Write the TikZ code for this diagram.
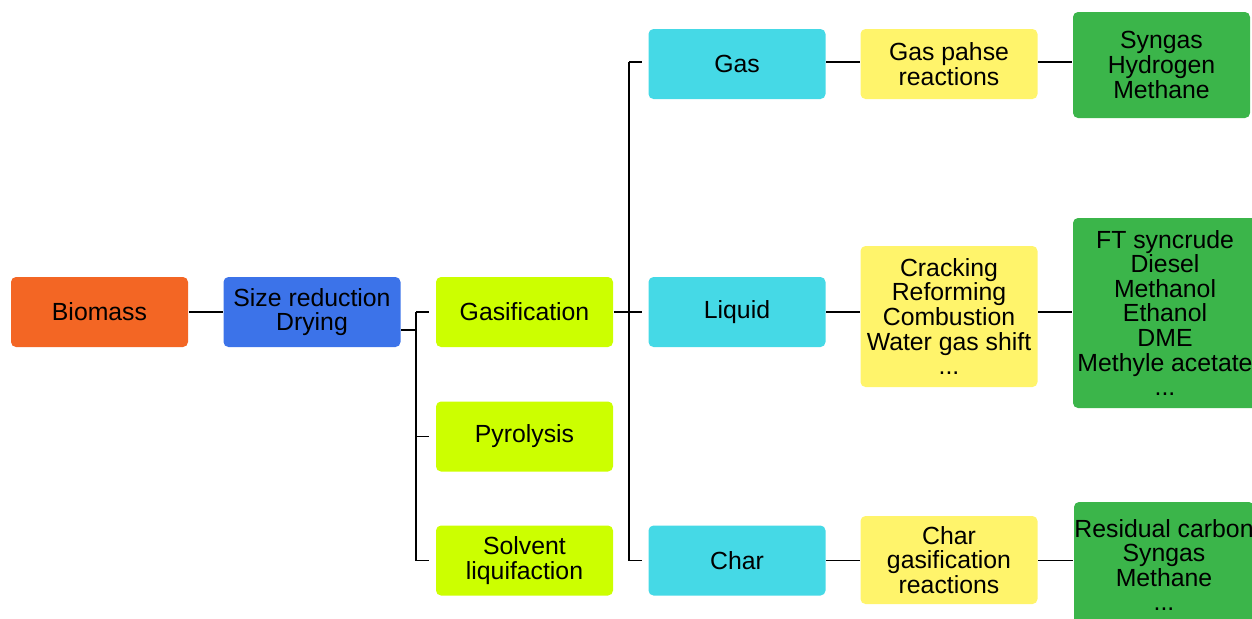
\documentclass[tikz,border=0pt]{standalone}
\usepackage{fontspec}
\setmainfont{Liberation Sans}
\usetikzlibrary{positioning}
\definecolor{cbio}{HTML}{F36624}
\definecolor{cprep}{HTML}{3C73E9}
\definecolor{cproc}{HTML}{CCFF00}
\definecolor{cphase}{HTML}{45D9E6}
\definecolor{creac}{HTML}{FFF46B}
\definecolor{cprod}{HTML}{3BB54A}

\begin{document}
\begin{tikzpicture}[
       x = 0.5pt, y = -0.5pt, line width=0.75pt,
 box/.style = {rounded corners=2.5pt, inner sep=0pt, align=center,
               minimum width=88.5pt, minimum height=35pt,
               font=\fontsize{12.4}{12.3}\selectfont},% all boxes
 bio/.style = {box, fill=cbio},
prep/.style = {box, fill=cprep},
proc/.style = {box, fill=cproc},
phas/.style = {box, fill=cphase},
reac/.style = {box, fill=creac},
prod/.style = {box, fill=cprod},
 gap/.style = {shorten >=3pt},% small gap before the boxes on a bus
]
\useasboundingbox (0,0) rectangle (1252,618);
% first columns
\node[bio]  (bio)   at (99.5,312)   {Biomass};
\node[prep] (prep)  at (312,312)    {Size reduction\\Drying};
\node[proc] (gasif) at (524.5,312)  {Gasification};
\node[proc] (pyro)  at (524.5,436.5){Pyrolysis};
\node[proc] (solv)  at (524.5,560.5){Solvent\\liquifaction};
% products of gasification
\node[phas] (gas)   at (737,64)     {Gas};
\node[phas] (liq)   at (737,312)    {Liquid};
\node[phas] (char)  at (737,560.5)  {Char};
% reactions
\node[reac] (gasr)  at (949,64)     {Gas pahse\\reactions};
\node[reac, minimum height=70.5pt] (liqr) at (949,316.5)
      {Cracking\\Reforming\\Combustion\\Water gas shift\\...};
\node[reac, minimum height=44pt] (charr) at (949,560)
      {Char\\gasification\\reactions};
% final products
\node[prod, minimum height=53pt] (prod1) at (1161.5,65)
      {Syngas\\Hydrogen\\Methane};
\node[prod, minimum width=92pt, minimum height=95pt] (prod2) at (1165,313)
      {FT syncrude\\Diesel\\Methanol\\Ethanol\\DME\\Methyle acetate\\...};
\node[prod, minimum width=90pt, minimum height=63pt] (prod3) at (1164,565)
      {Residual carbon\\Syngas\\Methane\\...};
% buses
\coordinate (bus1) at (416,330);
\coordinate (bus2) at (629,312);
% connections
\draw (bio) -- (prep);
\draw ([yshift=-9pt]prep.east) -- (bus1);
\draw (bus1 |- gasif.west) -- (bus1 |- solv.west);
\foreach \n in {gasif,pyro,solv}
  \draw[gap] (bus1 |- \n.west) -- (\n.west);
\draw (gasif) -- (bus2);
\draw ([yshift=1pt]bus2 |- gas.west) -- (bus2 |- char.west);
\foreach \n/\s in {gas/1pt,liq/0pt,char/0pt}
  \draw[gap] ([yshift=\s]bus2 |- \n.west) -- ([yshift=\s]\n.west);
\draw ([yshift=1pt]gas.east) -- ([yshift=1pt]gas.east -| gasr.west);
\draw ([yshift=1pt]gas.east -| gasr.east) -- ([yshift=1pt]gas.east -| prod1.west);
\draw (liq) -- (liq -| liqr.west);
\draw (liq -| liqr.east) -- (liq -| prod2.west);
\draw (char) -- (char -| charr.west);
\draw (char -| charr.east) -- (char -| prod3.west);
\end{tikzpicture}
\end{document}
